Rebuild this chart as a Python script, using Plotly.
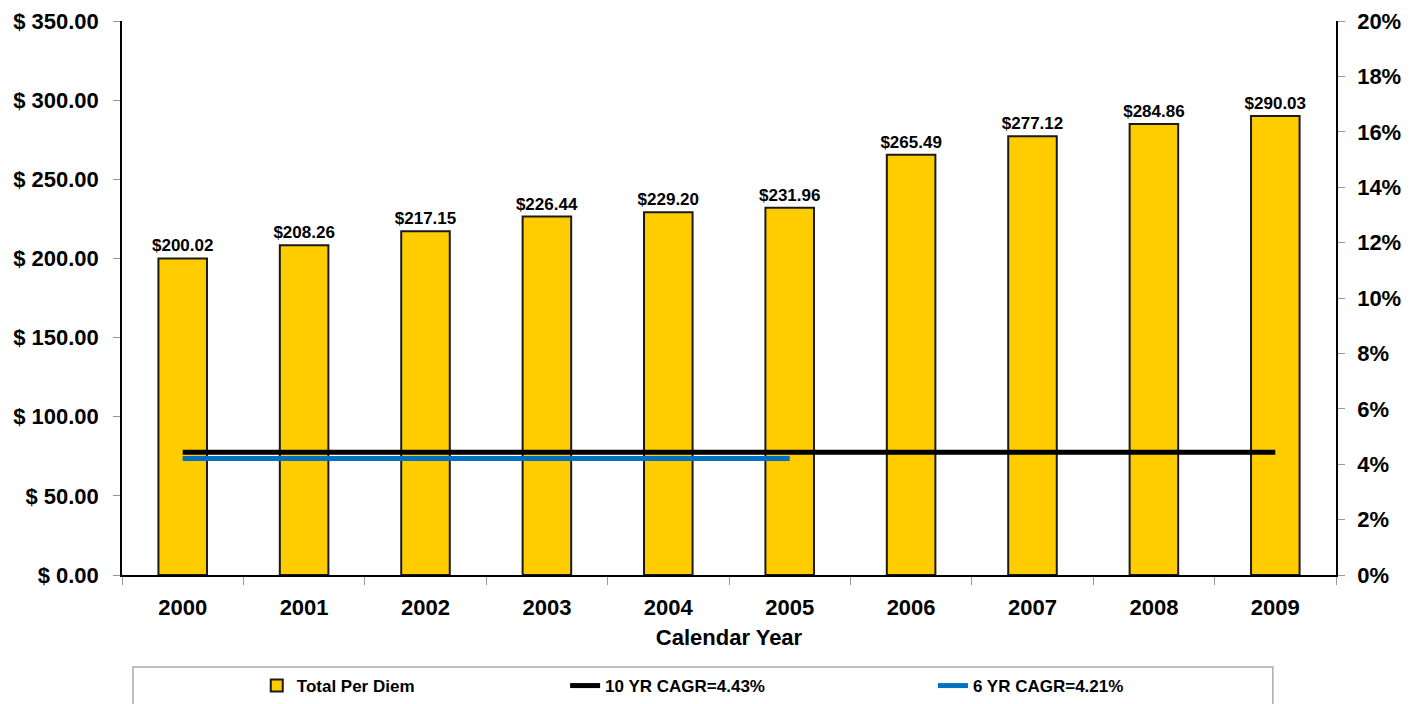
import plotly.graph_objects as go

years = ["2000", "2001", "2002", "2003", "2004", "2005", "2006", "2007", "2008", "2009"]
per_diem = [200.02, 208.26, 217.15, 226.44, 229.20, 231.96, 265.49, 277.12, 284.86, 290.03]

cagr10_years = years
cagr10 = [0.0443] * 10
cagr6_years = years[:6]
cagr6 = [0.0421] * 6

FONT = "Liberation Sans, Arial, sans-serif"

fig = go.Figure()

fig.add_trace(go.Bar(
    x=years, y=per_diem, name="Total Per Diem",
    marker=dict(color="#FFCC00", line=dict(color="#1a1a1a", width=2)),
    width=0.4,
    texttemplate="$%{y:.2f}", textposition="outside", cliponaxis=False,
    constraintext="none",
    textfont=dict(family=FONT, size=17, color="black", weight="bold"),
    legend="legend", showlegend=True,
))

fig.add_trace(go.Scatter(
    x=cagr10_years, y=cagr10, yaxis="y2", mode="lines",
    name="10 YR CAGR=4.43%", line=dict(color="black", width=5),
    legend="legend2", showlegend=True,
))

fig.add_trace(go.Scatter(
    x=cagr6_years, y=cagr6, yaxis="y2", mode="lines",
    name="6 YR CAGR=4.21%", line=dict(color="#0070C0", width=5),
    legend="legend3", showlegend=True,
))

tickfont = dict(family=FONT, size=22, color="black", weight="bold")
legfont = dict(family=FONT, size=17, color="black", weight="bold")

# page body has an 8px margin, so the figure is a bit smaller than the window
fig.update_layout(
    width=1404, height=696,
    margin=dict(l=114, r=76, t=13, b=129, autoexpand=False),
    paper_bgcolor="white", plot_bgcolor="white",
    font=dict(family=FONT, color="black"),
    showlegend=True,
    bargap=0.6,
    xaxis=dict(
        type="category", showline=True, linecolor="black", linewidth=1.5,
        ticks="outside", tickson="boundaries", ticklen=8, tickcolor="#999999",
        tickfont=tickfont, ticklabelstandoff=12, showgrid=False, automargin=False,
        title=dict(text="Calendar Year", font=tickfont, standoff=10),
    ),
    yaxis=dict(
        range=[0, 350], dtick=50, tickprefix="$ ", tickformat=".2f",
        showline=True, linecolor="black", linewidth=1.5,
        ticks="outside", ticklen=7, tickcolor="#999999",
        tickfont=tickfont, showgrid=False, zeroline=False,
        ticklabelstandoff=10, automargin=False, ticklabeloverflow="allow",
    ),
    yaxis2=dict(
        range=[0, 0.20], dtick=0.02, tickformat=".0%", overlaying="y", side="right",
        showline=True, linecolor="black", linewidth=1.5,
        ticks="outside", ticklen=7, tickcolor="#999999",
        tickfont=tickfont, showgrid=False, zeroline=False,
        ticklabelstandoff=8, automargin=False, ticklabeloverflow="allow",
    ),
    legend=dict(x=0.111, y=-0.2004, xanchor="left", yanchor="middle",
                orientation="h", font=legfont, bgcolor="rgba(0,0,0,0)"),
    legend2=dict(x=0.365, y=-0.2004, xanchor="left", yanchor="middle",
                 orientation="h", font=legfont, bgcolor="rgba(0,0,0,0)"),
    legend3=dict(x=0.668, y=-0.2004, xanchor="left", yanchor="middle",
                 orientation="h", font=legfont, bgcolor="rgba(0,0,0,0)"),
    shapes=[dict(type="rect", xref="paper", yref="paper",
                 x0=0.009, x1=0.948, y0=-0.26, y1=-0.166,
                 line=dict(color="#AAAAAA", width=1.5), fillcolor="rgba(0,0,0,0)")],
)

fig.write_html("out.html")
